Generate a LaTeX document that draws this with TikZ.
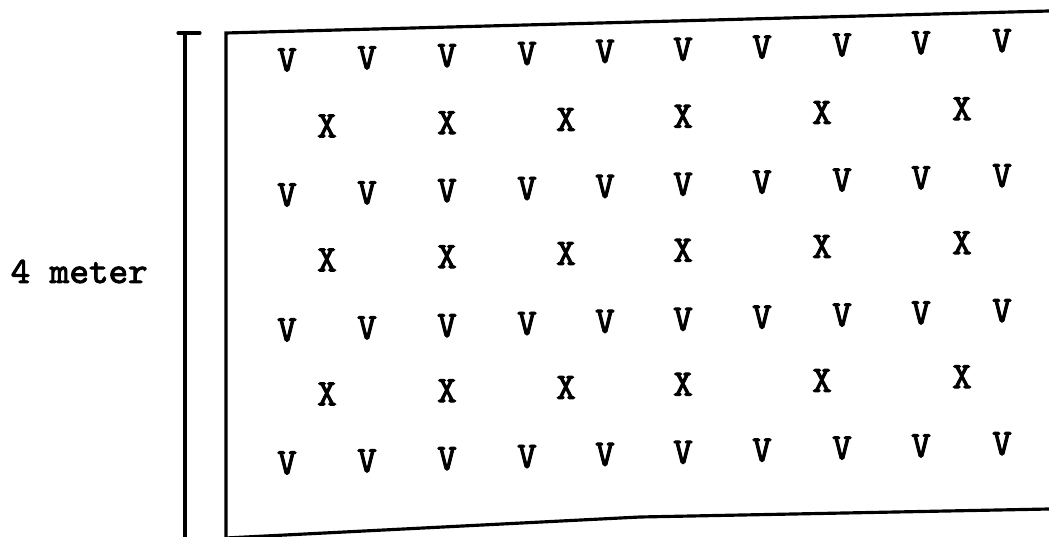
\documentclass[tikz,border=0pt]{standalone}
\usepackage{fontspec}
\newfontfamily\typefont[FakeBold=2.5]{lmmono10-regular.otf}
\usepackage{tikz}
\usetikzlibrary{positioning}

\begin{document}
\begin{tikzpicture}[
    x=0.01cm, y=-0.01cm,
    plant/.style={font=\typefont\fontsize{10.6}{12}\selectfont, inner sep=0pt},
    edge/.style={line width=0.9pt, line cap=round}
]
\useasboundingbox (0,0) rectangle (1049,537);

% Frame of the plot
\draw[edge] (1049,11) -- (226,33) -- (226,540);
\draw[edge] (226,538) -- (640,517) -- (1049,509);

% Dimension line
\coordinate (dimtop) at (185,33);
\coordinate (dimbot) at (185,540);
\draw[edge] (178,33) -- (200,33);
\draw[edge] (dimtop) -- (dimbot);
\node[plant, anchor=base west] (len) at (10,283) {4 meter};

% Rows of V
\foreach \r/\yy in {1/60, 2/195, 3/330, 4/463}
  \foreach \c/\xx in {1/287, 2/367, 3/447, 4/527, 5/605, 6/683, 7/762, 8/842, 9/921, 10/1002}
    \node[plant] (v-\r-\c) at (\xx, {\yy-0.027*(\xx-287)}) {V};

% Rows of X
\foreach \r/\yy in {1/127, 2/261, 3/395}
  \foreach \c/\xx in {1/327, 2/447, 3/566, 4/683, 5/822, 6/962}
    \node[plant] (x-\r-\c) at (\xx, {\yy-0.027*(\xx-287)}) {X};

\end{tikzpicture}
\end{document}
